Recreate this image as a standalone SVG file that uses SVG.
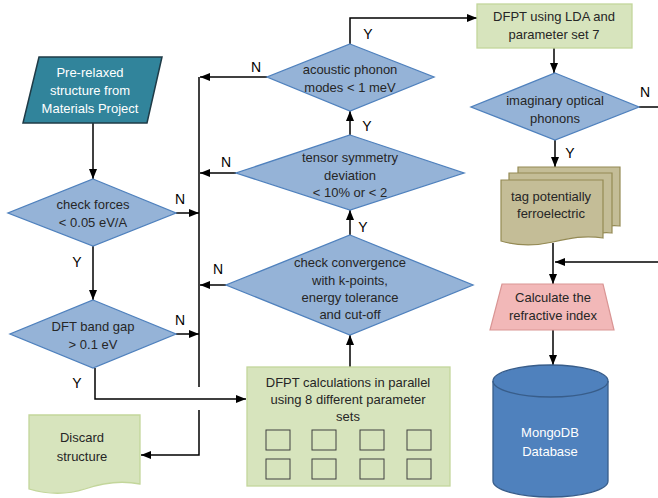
<svg xmlns="http://www.w3.org/2000/svg" width="658" height="498" viewBox="0 0 658 498">
<defs>
<marker id="ah" markerWidth="10" markerHeight="10" viewBox="0 0 10 10" refX="10" refY="5" orient="auto" markerUnits="userSpaceOnUse">
<path d="M0,1 L10,5 L0,9 Z" fill="#000"/>
</marker>
<style>
.t{font-family:"Liberation Sans",Arial,sans-serif;font-size:13px;fill:#262626;text-anchor:middle}
.w{fill:#fff}
.lb{font-family:"Liberation Sans",Arial,sans-serif;font-size:14px;fill:#000;text-anchor:middle}
.dia{fill:#95B3D7;stroke:#4F81BD;stroke-width:1.3}
.grn{fill:#D7E4BD;stroke:#C3D69B;stroke-width:1.3}
.c{fill:none;stroke:#000;stroke-width:1.5}
.ca{fill:none;stroke:#000;stroke-width:1.5;marker-end:url(#ah)}
.sq{fill:none;stroke:#404040;stroke-width:1}
</style>
</defs>
<rect width="658" height="498" fill="#fff"/>

<g id="connectors">
<path class="ca" d="M93,123 V179"/>
<path class="ca" d="M93,246 V300"/>
<path class="ca" d="M176,213 H199"/>
<path class="ca" d="M176,334 H199"/>
<path class="c" d="M199,77 V387"/>
<path class="ca" d="M95,368 V399 H246"/>
<path class="ca" d="M199,410 V455 H141"/>
<path class="ca" d="M267,77 H200"/>
<path class="ca" d="M236,173 H200"/>
<path class="ca" d="M226,285 H200"/>
<path class="ca" d="M350,135 V111"/>
<path class="ca" d="M350,235 V210"/>
<path class="ca" d="M350,367 V335"/>
<path class="ca" d="M350,44 V18 H477"/>
<path class="ca" d="M554,48 V73"/>
<path class="c" d="M639,107 H658"/>
<path class="ca" d="M555,140 V167"/>
<path class="ca" d="M658,262 H555"/>
<path class="ca" d="M553,243 V284"/>
<path class="ca" d="M553,330 V365"/>
</g>

<g id="labels">
<text class="lb" x="180" y="204">N</text>
<text class="lb" x="77" y="267">Y</text>
<text class="lb" x="180" y="325">N</text>
<text class="lb" x="77" y="388">Y</text>
<text class="lb" x="256" y="72">N</text>
<text class="lb" x="226" y="167">N</text>
<text class="lb" x="218" y="274">N</text>
<text class="lb" x="368" y="39">Y</text>
<text class="lb" x="367" y="131">Y</text>
<text class="lb" x="363" y="232">Y</text>
<text class="lb" x="645" y="97">N</text>
<text class="lb" x="570" y="158">Y</text>
</g>

<g id="prerelaxed">
<path d="M39,57 H162 L147,123 H23 Z" fill="#31849B" stroke="#1F3B47" stroke-width="1.5"/>
<text class="t w" x="90" y="77">Pre-relaxed</text>
<text class="t w" x="90" y="95">structure from</text>
<text class="t w" x="90" y="113">Materials Project</text>
</g>

<g id="checkforces">
<path class="dia" d="M93,179 L176,213 L93,246 L8,213 Z"/>
<text class="t" x="93" y="209">check forces</text>
<text class="t" x="93" y="227">&lt; 0.05 eV/A</text>
</g>

<g id="bandgap">
<path class="dia" d="M93,300 L176,334 L93,368 L10,334 Z"/>
<text class="t" x="93" y="331">DFT band gap</text>
<text class="t" x="93" y="349">&gt; 0.1 eV</text>
</g>

<g id="discard">
<path class="grn" d="M29,415 H140 V484 C120,480 102,483 85,489 C66,495 46,494 29,489 Z"/>
<text class="t" x="82" y="442">Discard</text>
<text class="t" x="82" y="461">structure</text>
</g>

<g id="acoustic">
<path class="dia" d="M350,44 L434,77 L350,111 L267,77 Z"/>
<text class="t" x="350" y="74">acoustic phonon</text>
<text class="t" x="350" y="92">modes &lt; 1 meV</text>
</g>

<g id="tensor">
<path class="dia" d="M350,135 L464,173 L350,210 L236,173 Z"/>
<text class="t" x="350" y="162">tensor symmetry</text>
<text class="t" x="350" y="180">deviation</text>
<text class="t" x="350" y="197">&lt; 10% or &lt; 2</text>
</g>

<g id="convergence">
<path class="dia" d="M350,235 L473,285 L350,335 L226,285 Z"/>
<text class="t" x="350" y="267">check convergence</text>
<text class="t" x="350" y="285">with k-points,</text>
<text class="t" x="350" y="302">energy tolerance</text>
<text class="t" x="350" y="319">and cut-off</text>
</g>

<g id="dfpt-parallel">
<rect class="grn" x="247" y="367" width="203" height="119"/>
<text class="t" x="348" y="387">DFPT calculations in parallel</text>
<text class="t" x="348" y="404">using 8 different parameter</text>
<text class="t" x="348" y="421">sets</text>
<rect class="sq" x="266" y="430" width="24" height="20"/>
<rect class="sq" x="312" y="430" width="24" height="20"/>
<rect class="sq" x="360" y="430" width="24" height="20"/>
<rect class="sq" x="407" y="430" width="24" height="20"/>
<rect class="sq" x="266" y="459" width="24" height="20"/>
<rect class="sq" x="312" y="459" width="24" height="20"/>
<rect class="sq" x="360" y="459" width="24" height="20"/>
<rect class="sq" x="407" y="459" width="24" height="20"/>
</g>

<g id="dfpt-lda">
<rect class="grn" x="477" y="4" width="155" height="44"/>
<text class="t" x="554" y="21">DFPT using LDA and</text>
<text class="t" x="554" y="39">parameter set 7</text>
</g>

<g id="imaginary">
<path class="dia" d="M555,73 L639,107 L555,140 L471,107 Z"/>
<text class="t" x="555" y="105">imaginary optical</text>
<text class="t" x="555" y="123">phonons</text>
</g>

<g id="tag">
<path d="M518,167 H620 V226 C612,225 606,226 600,228 L518,228 Z" fill="#C4BD97" stroke="#948A54" stroke-width="1.2"/>
<path d="M509,173 H612 V233 C604,232 598,233 592,235 L509,235 Z" fill="#C4BD97" stroke="#948A54" stroke-width="1.2"/>
<path d="M501,180 H603 V238 C585,235 570,238 553,242 C535,246 518,246 501,241 Z" fill="#C4BD97" stroke="#948A54" stroke-width="1.2"/>
<text class="t" x="551" y="201">tag potentially</text>
<text class="t" x="551" y="218">ferroelectric</text>
</g>

<g id="refractive">
<path d="M502,284 H603 L614,330 H490 Z" fill="#F2B8B8" stroke="#D99594" stroke-width="1.2"/>
<text class="t" x="553" y="302">Calculate the</text>
<text class="t" x="553" y="320">refractive index</text>
</g>

<g id="mongodb">
<path d="M493,381 V481 A57.5,16 0 0 0 608,481 V381 A57.5,16 0 0 0 493,381 Z" fill="#4F81BD" stroke="#385D8A" stroke-width="1.3"/>
<path d="M493,381 A57.5,16 0 0 0 608,381" fill="none" stroke="#385D8A" stroke-width="1.3"/>
<text class="t w" x="550" y="437">MongoDB</text>
<text class="t w" x="550" y="456">Database</text>
</g>
</svg>
